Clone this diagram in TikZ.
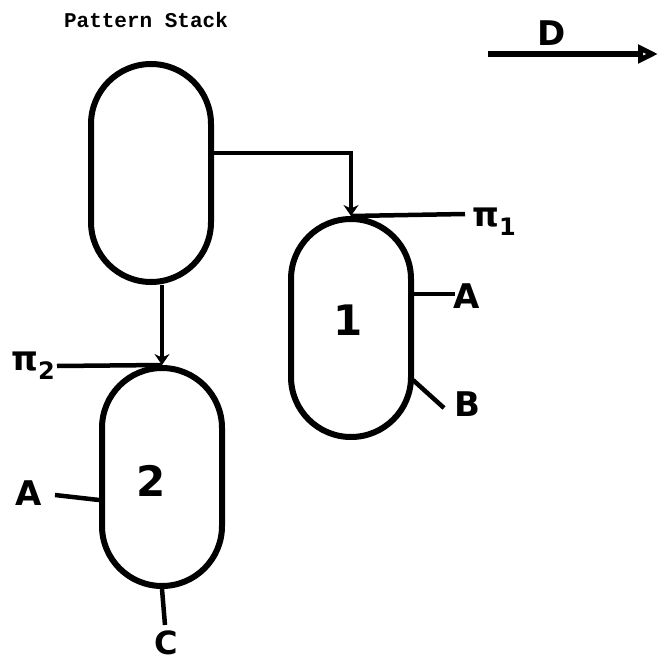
\documentclass[tikz,border=0pt]{standalone}
\usepackage{fontspec}
\setmainfont{DejaVu Sans}
\newfontfamily\typew{Liberation Mono}
\usetikzlibrary{arrows.meta,calc}
\begin{document}
\begin{tikzpicture}[x=1pt,y=-1pt,
  pill/.style={draw,line width=6pt,minimum width=120pt,minimum height=218pt,rounded corners=60pt,inner sep=0pt},
  wire/.style={line width=4.5pt},
  hand/.style={font=\fontsize{34}{36}\selectfont\bfseries,inner sep=0pt},
  num/.style={font=\fontsize{42}{44}\selectfont\bfseries,inner sep=0pt},
  tip/.style={-{Stealth[length=11pt,width=15pt]}}]
\useasboundingbox (0,0) rectangle (662,663);

\node[font=\typew\bfseries\fontsize{21}{23}\selectfont,inner sep=0pt] (title) at (146,20) {Pattern Stack};

% D arrow
\node[hand] (dl) at (552,33) {D};
\coordinate (d0) at (488,54);
\coordinate (d1) at (658,54);
\draw[line width=5.5pt,-{Triangle[open,length=20pt,width=18pt]}] (d0) -- (d1);

% pills
\node[pill] (ps) at (151,173) {};
\node[pill] (p1) at (351,328) {};
\node[pill] (p2) at (162,477) {};
\node[num] (n1) at (348,320) {1};
\node[num] (n2) at (151,481) {2};

% connectors
\draw[wire,tip] ($(ps.east)+(0,-20)$) -| (p1.north);
\draw[wire,tip] (ps.south -| p2.north) -- (p2.north);

% pi 1
\coordinate (pi1e) at (465,214);
\draw[wire] (p1.north) -- (pi1e);
\node[hand] (pi1) at (494,222) {π\raisebox{-0.5ex}{\fontsize{24}{24}\selectfont 1}};

% pi 2
\coordinate (pi2e) at (57,366);
\draw[wire] (pi2e) -- (p2.north);
\node[hand] (pi2) at (33,366) {π\raisebox{-0.5ex}{\fontsize{24}{24}\selectfont 2}};

% pill 1 outputs
\coordinate (a1e) at (455,294);
\draw[wire] ($(p1.east)+(0,-34)$) -- (a1e);
\node[hand] (a1) at (467,296) {A};
\coordinate (b1e) at (444,408);
\draw[wire] ($(p1.east)+(-1,52)$) -- (b1e);
\node[hand] (b1) at (467,404) {B};

% pill 2 outputs
\coordinate (a2e) at (55,495);
\draw[wire] (a2e) -- ($(p2.west)+(0,23)$);
\node[hand] (a2) at (29,493) {A};
\coordinate (c2e) at (165,625);
\draw[wire] (p2.south) -- (c2e);
\node[hand,font=\fontsize{32}{34}\selectfont\bfseries] (c2) at (166,643) {C};
\end{tikzpicture}
\end{document}
